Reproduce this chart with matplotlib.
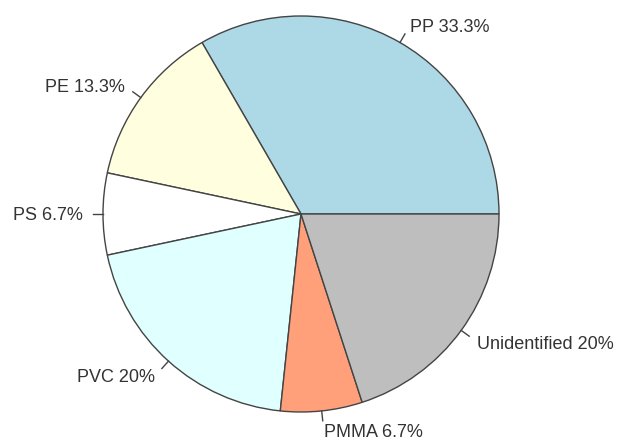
import matplotlib
matplotlib.use('Agg')
import matplotlib.pyplot as plt
import numpy as np

# Sample counts per polymer type
labels = ['PP', 'PE', 'PS', 'PVC', 'PMMA', 'Unidentified']
counts = [5, 2, 1, 3, 1, 3]
colors = ['#add8e6', '#ffffe0', '#ffffff', '#e0ffff', '#ffa07a', '#bebebe']

total = sum(counts)
pcts = [round(100 * c / total, 1) for c in counts]
texts = [f"{lab} {p:g}%" for lab, p in zip(labels, pcts)]

fig = plt.figure(figsize=(6.21, 4.41), dpi=100)
ax = fig.add_axes([0, 0, 1, 1])

cx, cy, r = 301, 227, 198
wedges, _ = ax.pie(counts, colors=colors, startangle=0, counterclock=True,
                   center=(cx, cy), radius=r, frame=False,
                   wedgeprops=dict(edgecolor='#444444', linewidth=1.0))

# R-style labels: short tick out to 1.05 r, text at 1.1 r
cum = np.cumsum([0] + counts)
for i, txt in enumerate(texts):
    mid = np.deg2rad(360 * (cum[i] + cum[i + 1]) / 2 / total)
    c, s = np.cos(mid), np.sin(mid)
    ax.plot([cx + r * c, cx + 1.05 * r * c], [cy + r * s, cy + 1.05 * r * s],
            color='#444444', lw=1.0)
    ha = 'left' if c > 0 else 'right'
    ax.text(cx + 1.1 * r * c, cy + 1.1 * r * s - 2, txt, ha=ha, va='center',
            fontsize=13, family='Liberation Sans', color='#333333')

ax.set_xlim(0, 621)
ax.set_ylim(0, 441)
ax.set_aspect('equal')
ax.axis('off')

plt.savefig('out.png', dpi=100)
